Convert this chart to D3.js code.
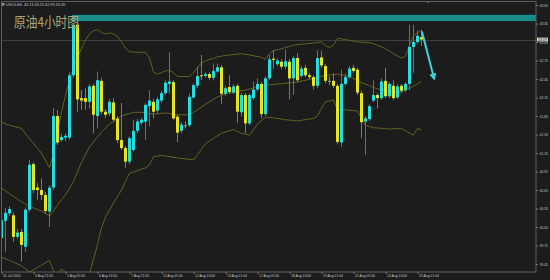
<!DOCTYPE html>
<html>
<head>
<meta charset="utf-8">
<script src="https://cdn.jsdelivr.net/npm/d3@7"></script>
<style>
  html, body { margin: 0; padding: 0; background: #1c1c1c; overflow: hidden; }
</style>
</head>
<body>
<div id="chart"></div>
<script>
// H4 candles, USOil, 31 Jul 2020 13:00 -> 25 Aug 2020 21:00 (one entry per bar)
var opens = [39.87, 40.15, 40.27, 40.24, 39.89, 39.97, 39.73, 40.33, 41.07, 40.69,
  40.65, 40.57, 40.30, 40.69, 41.85, 41.46, 41.50, 41.50, 42.51, 43.33,
  42.14, 42.14, 42.08, 42.34, 41.85, 42.42, 41.92, 41.89, 42.07, 41.81,
  41.46, 41.33, 41.11, 41.30, 41.61, 41.74, 41.76, 42.01, 42.08, 41.94,
  42.10, 42.22, 42.37, 42.40, 41.84, 41.61, 41.70, 41.70, 42.15, 42.34,
  42.51, 42.50, 42.53, 42.47, 42.57, 42.64, 42.21, 42.32, 42.23, 42.34,
  41.91, 42.19, 41.73, 42.14, 42.28, 42.37, 41.88, 42.46, 42.78, 42.69,
  42.73, 42.65, 42.73, 42.46, 42.79, 42.50, 42.63, 42.51, 42.48, 42.34,
  42.80, 42.66, 42.42, 42.42, 42.34, 41.42, 42.37, 42.48, 42.63, 42.60,
  42.22, 41.76, 41.80, 42.10, 42.19, 42.14, 42.42, 42.17, 42.34, 42.15,
  42.34, 42.27, 42.37, 42.97, 43.05, 43.13];
var highs = [40.41, 40.36, 40.39, 40.28, 40.02, 40.02, 40.37, 41.14, 41.10, 40.76,
  40.84, 40.62, 40.73, 41.98, 41.95, 41.56, 41.57, 42.56, 43.36, 43.35,
  42.27, 42.30, 42.37, 42.37, 42.57, 42.47, 41.96, 42.13, 42.14, 41.85,
  42.06, 41.36, 41.52, 41.79, 41.80, 41.82, 42.06, 42.27, 42.13, 42.16,
  42.26, 42.43, 42.88, 42.43, 41.87, 41.75, 41.76, 42.21, 42.38, 42.65,
  42.84, 42.56, 42.56, 42.70, 42.70, 42.68, 42.34, 42.51, 42.37, 42.37,
  42.22, 42.22, 42.22, 42.41, 42.46, 42.40, 42.50, 42.84, 42.92, 42.79,
  42.77, 42.93, 42.77, 42.82, 42.87, 42.66, 42.68, 42.55, 42.51, 42.92,
  42.91, 42.69, 42.49, 42.54, 42.37, 42.60, 42.54, 42.66, 42.68, 42.63,
  42.26, 41.85, 42.04, 42.43, 42.22, 42.46, 42.63, 42.40, 42.43, 42.37,
  42.37, 42.40, 43.33, 43.33, 43.24, 43.25];
var lows = [39.71, 39.64, 40.23, 39.81, 39.86, 39.49, 39.65, 40.29, 40.60, 40.49,
  40.49, 40.27, 40.05, 40.65, 41.38, 41.43, 41.44, 41.46, 42.47, 41.92,
  41.95, 41.95, 41.97, 41.57, 41.65, 41.88, 41.82, 41.85, 41.75, 41.41,
  41.30, 41.01, 41.07, 41.27, 41.57, 41.70, 41.46, 41.68, 41.81, 41.90,
  42.06, 42.19, 42.22, 41.79, 41.43, 41.57, 41.65, 41.67, 42.13, 42.30,
  42.43, 42.47, 42.43, 42.43, 42.55, 42.04, 42.17, 42.21, 42.21, 41.74,
  41.84, 41.57, 41.70, 42.11, 42.25, 41.81, 41.85, 42.43, 42.62, 42.66,
  42.61, 42.61, 42.12, 42.19, 42.40, 42.47, 42.48, 42.45, 42.28, 42.30,
  42.63, 42.38, 42.35, 42.30, 41.39, 41.35, 42.34, 42.45, 42.55, 42.19,
  41.49, 41.22, 41.77, 42.08, 41.97, 42.11, 42.14, 42.14, 42.11, 42.13,
  42.22, 42.24, 42.27, 42.55, 43.02, 42.99];
var closes = [40.16, 40.28, 40.34, 39.89, 39.96, 39.76, 40.33, 41.06, 40.65, 40.65,
  40.57, 40.31, 40.69, 41.85, 41.42, 41.51, 41.53, 42.51, 43.33, 42.12,
  42.10, 42.08, 42.33, 41.87, 42.43, 41.92, 41.87, 42.08, 41.79, 41.46,
  41.33, 41.11, 41.49, 41.61, 41.76, 41.79, 42.03, 42.10, 41.92, 42.12,
  42.22, 42.39, 42.41, 41.81, 41.58, 41.71, 41.70, 42.16, 42.35, 42.50,
  42.50, 42.53, 42.47, 42.58, 42.64, 42.21, 42.30, 42.24, 42.33, 41.92,
  42.19, 41.73, 42.19, 42.28, 42.37, 41.88, 42.46, 42.77, 42.76, 42.75,
  42.65, 42.74, 42.46, 42.79, 42.43, 42.62, 42.51, 42.48, 42.34, 42.79,
  42.67, 42.42, 42.42, 42.34, 41.43, 42.37, 42.48, 42.62, 42.58, 42.23,
  41.75, 41.81, 42.01, 42.19, 42.14, 42.41, 42.17, 42.37, 42.14, 42.33,
  42.26, 42.37, 42.97, 43.05, 43.15, 43.09];

// bollinger bands: [bar index, price]
var upperBand = [[0,41.75],[2,41.70],[5,41.65],[7,41.48],[10,41.25],[12,41.01],[13,41.25],[14,41.62],
  [15,41.91],[16,42.19],[17,42.43],[18,42.63],[19,42.81],[20,42.94],[21,43.08],[22,43.18],[23,43.23],
  [24,43.25],[25,43.20],[26,43.18],[27,43.20],[28,43.18],[29,43.14],[30,43.05],[31,42.95],[32,42.89],
  [36,42.88],[37,42.79],[38,42.56],[39,42.53],[40,42.55],[41,42.58],[42,42.59],[43,42.55],[44,42.49],
  [47,42.49],[48,42.55],[49,42.63],[50,42.71],[51,42.74],[52,42.77],[53,42.78],[54,42.81],[55,42.82],
  [57,42.84],[60,42.86],[62,42.84],[65,42.80],[66,42.77],[67,42.86],[68,42.91],[70,42.94],[73,43.00],
  [76,43.02],[79,43.04],[80,43.05],[81,42.99],[82,42.96],[83,43.00],[84,43.11],[86,43.09],[89,43.05],
  [92,43.04],[94,43.00],[96,42.94],[98,42.86],[100,42.79],[101,42.82],[102,43.00],[103,43.15],
  [104,43.20],[105,43.23]];
var middleBand = [[0,40.68],[2,40.59],[5,40.46],[6,40.42],[8,40.36],[10,40.31],[12,40.23],[13,40.31],
  [14,40.41],[16,40.57],[18,40.79],[20,41.10],[22,41.35],[25,41.59],[27,41.72],[30,41.85],[33,41.91],
  [35,41.91],[38,41.88],[41,41.90],[44,41.87],[47,41.87],[49,41.95],[51,42.04],[54,42.16],[56,42.21],
  [59,42.25],[61,42.27],[64,42.32],[66,42.35],[71,42.38],[74,42.40],[78,42.46],[81,42.51],[84,42.53],
  [87,42.49],[89,42.42],[92,42.34],[94,42.29],[97,42.25],[100,42.24],[102,42.30],[104,42.37],[105,42.41]];
var lowerBand = [[0,39.56],[2,39.51],[5,39.42],[7,39.32],[10,39.43],[12,39.51],[13,39.34],[14,39.26],
  [15,39.37],[16,39.32],[17,39.19],[20,39.11],[22,39.30],[24,39.76],[25,40.04],[26,40.21],[28,40.44],
  [30,40.65],[31,40.79],[32,40.92],[33,40.94],[36,41.01],[37,41.06],[38,41.19],[40,41.21],[44,41.17],
  [48,41.14],[49,41.22],[51,41.40],[53,41.49],[55,41.57],[57,41.61],[58,41.63],[60,41.57],[62,41.54],
  [64,41.72],[66,41.83],[68,41.82],[71,41.79],[74,41.77],[78,41.81],[79,41.85],[80,41.98],[81,42.08],
  [83,42.11],[84,41.95],[86,41.95],[89,41.93],[91,41.70],[93,41.66],[97,41.64],[100,41.65],[102,41.57],
  [103,41.54],[104,41.65],[105,41.62]];

// resistance zone (from bar 18 to the right edge) and the forecast arrow
var zoneStart = 18;
var zonePrices = [43.39, 43.49];
var arrowPts = [[105.1, 43.22], [108.1, 42.47]];

var yTicks = [43.65, 43.35, 43.05, 42.75, 42.45, 42.15, 41.85, 41.55, 41.25, 40.95, 40.65, 40.35, 40.05, 39.75, 39.45];
var xTickIdx = [0, 8, 16, 24, 32, 40, 48, 56, 64, 72, 80, 88, 96, 104];
var xLabels = ["31 Jul 2020", "3 Aug 21:00", "5 Aug 05:00", "6 Aug 13:00", "7 Aug 21:00", "11 Aug 05:00",
  "12 Aug 13:00", "13 Aug 21:00", "17 Aug 05:00", "18 Aug 13:00", "19 Aug 21:00", "21 Aug 05:00",
  "24 Aug 13:00", "25 Aug 21:00"];
var headerText = "USOil,H4  43.13 43.25 42.99 43.09";
var title = "原油4小时图";

function main(){
  var width = 550, height = 280;
  var plot = {left: 1.5, top: 1.5, right: 536, bottom: 272};
  var bg = "#1c1c1c";
  var upCol = "#22dfe4", downCol = "#e9e51c";
  var upWick = "#2c8a8d", downWick = "#858228";
  var bandCol = "#636124";
  var textCol = "#c4c4c4";

  var svg = d3.select("#chart").append("svg")
    .attr("width", width)
    .attr("height", height);

  svg.append("rect").attr("width", width).attr("height", height).attr("fill", bg);

  // bar index -> x, price -> y
  var x = d3.scaleLinear().domain([0, 105]).range([1.5, 421.5]);
  var y = d3.scaleLinear().domain([39.45, 43.65]).range([264, 5]);

  var defs = svg.append("defs");
  defs.append("clipPath").attr("id", "plotclip")
    .append("rect")
    .attr("x", plot.left).attr("y", plot.top)
    .attr("width", plot.right - plot.left).attr("height", plot.bottom - plot.top);
  defs.append("marker")
    .attr("id", "head")
    .attr("markerUnits", "userSpaceOnUse")
    .attr("viewBox", "0 0 10 10")
    .attr("refX", 6).attr("refY", 5)
    .attr("markerWidth", 7).attr("markerHeight", 7)
    .attr("orient", "auto")
    .append("path")
    .attr("d", "M0,0 L10,5 L0,10 z")
    .attr("fill", "#3ad8de");

  var g = svg.append("g").attr("clip-path", "url(#plotclip)");

  // current price line
  var last = closes[closes.length - 1];
  g.append("line")
    .attr("x1", plot.left).attr("x2", plot.right)
    .attr("y1", Math.round(y(last)) + 0.5).attr("y2", Math.round(y(last)) + 0.5)
    .attr("stroke", "#3e3e3e").attr("stroke-width", 1);

  // bollinger bands
  var line = d3.line()
    .x(function(d){ return x(d[0]); })
    .y(function(d){ return y(d[1]); });
  [upperBand, middleBand, lowerBand].forEach(function(band){
    g.append("path")
      .datum(band)
      .attr("d", line)
      .attr("fill", "none")
      .attr("stroke", bandCol)
      .attr("stroke-width", 1);
  });

  var bars = d3.range(opens.length).map(function(i){
    return {i: i, o: opens[i], h: highs[i], l: lows[i], c: closes[i]};
  });

  // wicks
  g.append("g").selectAll("rect")
    .data(bars)
    .enter()
    .append("rect")
      .attr("x", function(d){ return x(d.i) - 0.5; })
      .attr("y", function(d){ return y(d.h); })
      .attr("width", 1)
      .attr("height", function(d){ return y(d.l) - y(d.h); })
      .attr("fill", function(d){
        if (d.c > d.o) return upWick;
        if (d.c < d.o) return downWick;
        return "#7a7a7a";
      });

  // bodies
  g.append("g").selectAll("rect")
    .data(bars)
    .enter()
    .append("rect")
      .attr("x", function(d){ return x(d.i) - 1.5; })
      .attr("y", function(d){ return y(Math.max(d.o, d.c)); })
      .attr("width", 3)
      .attr("height", function(d){ return Math.max(1, Math.abs(y(d.o) - y(d.c))); })
      .attr("fill", function(d){
        if (d.c > d.o) return upCol;
        if (d.c < d.o) return downCol;
        return "#9a9a9a";
      });

  // resistance zone
  g.append("rect")
    .attr("x", x(zoneStart) - 1.5)
    .attr("y", y(zonePrices[1]))
    .attr("width", plot.right - (x(zoneStart) - 1.5))
    .attr("height", y(zonePrices[0]) - y(zonePrices[1]))
    .attr("fill", "#178c8a");

  // forecast arrow
  svg.append("path")
    .datum(arrowPts)
    .attr("d", line)
    .attr("fill", "none")
    .attr("stroke", "#3ad8de")
    .attr("stroke-width", 2)
    .attr("marker-end", "url(#head)");

  // title, squeezed to the width it takes in the picture
  svg.append("text")
    .attr("x", 14)
    .attr("y", 27)
    .attr("font-family", "'Noto Sans CJK SC', sans-serif")
    .attr("font-size", "13.5px")
    .attr("textLength", 65)
    .attr("lengthAdjust", "spacingAndGlyphs")
    .attr("fill", "#aaa87a")
    .text(title);

  // header line
  svg.append("rect").attr("x", 2).attr("y", 3).attr("width", 2.5).attr("height", 2.5).attr("fill", "#9a9a9a");
  svg.append("text")
    .attr("x", 6)
    .attr("y", 5.8)
    .attr("font-family", "'Liberation Sans', Arial, sans-serif")
    .attr("font-size", "3.8px")
    .attr("fill", textCol)
    .attr("xml:space", "preserve")
    .text(headerText);

  // chart border
  svg.append("rect")
    .attr("x", plot.left).attr("y", plot.top)
    .attr("width", plot.right - plot.left).attr("height", plot.bottom - plot.top)
    .attr("fill", "none")
    .attr("stroke", "#5e5e5e")
    .attr("stroke-width", 1);

  // shift marker on top edge
  var sx = x(106.6);
  svg.append("path")
    .attr("d", "M" + (sx - 2) + ",1 L" + (sx + 2) + ",1 L" + sx + ",3.5 z")
    .attr("fill", "#6a6a6a");

  // price axis
  var yAxis = svg.append("g")
    .attr("transform", "translate(" + plot.right + ",0)")
    .call(d3.axisRight(y).tickValues(yTicks).tickSize(2).tickPadding(1.5).tickFormat(d3.format(".2f")));
  yAxis.select(".domain").remove();
  yAxis.selectAll("line").attr("stroke", "#777");
  yAxis.selectAll("text")
    .attr("fill", textCol)
    .attr("font-family", "'Liberation Sans', Arial, sans-serif")
    .attr("font-size", "3.4px");

  // current price box
  svg.append("rect")
    .attr("x", 537).attr("y", y(last) - 1.9)
    .attr("width", 11).attr("height", 3.8)
    .attr("fill", "#d6d6d6");
  svg.append("text")
    .attr("x", 538.3).attr("y", y(last) + 1.2)
    .attr("font-family", "'Liberation Sans', Arial, sans-serif")
    .attr("font-size", "3.4px")
    .attr("fill", "#111")
    .text(last.toFixed(2));

  // time axis
  var xAxis = svg.append("g")
    .attr("transform", "translate(0," + plot.bottom + ")")
    .call(d3.axisBottom(x).tickValues(xTickIdx).tickSize(2).tickFormat(function(d, i){ return xLabels[i]; }));
  xAxis.select(".domain").remove();
  xAxis.selectAll("line").attr("stroke", "#777");
  xAxis.selectAll("text")
    .attr("fill", textCol)
    .attr("font-family", "'Liberation Sans', Arial, sans-serif")
    .attr("font-size", "3.4px")
    .attr("text-anchor", "start")
    .attr("dx", "1")
    .attr("y", 2.5);
}
main();
</script>
</body>
</html>
